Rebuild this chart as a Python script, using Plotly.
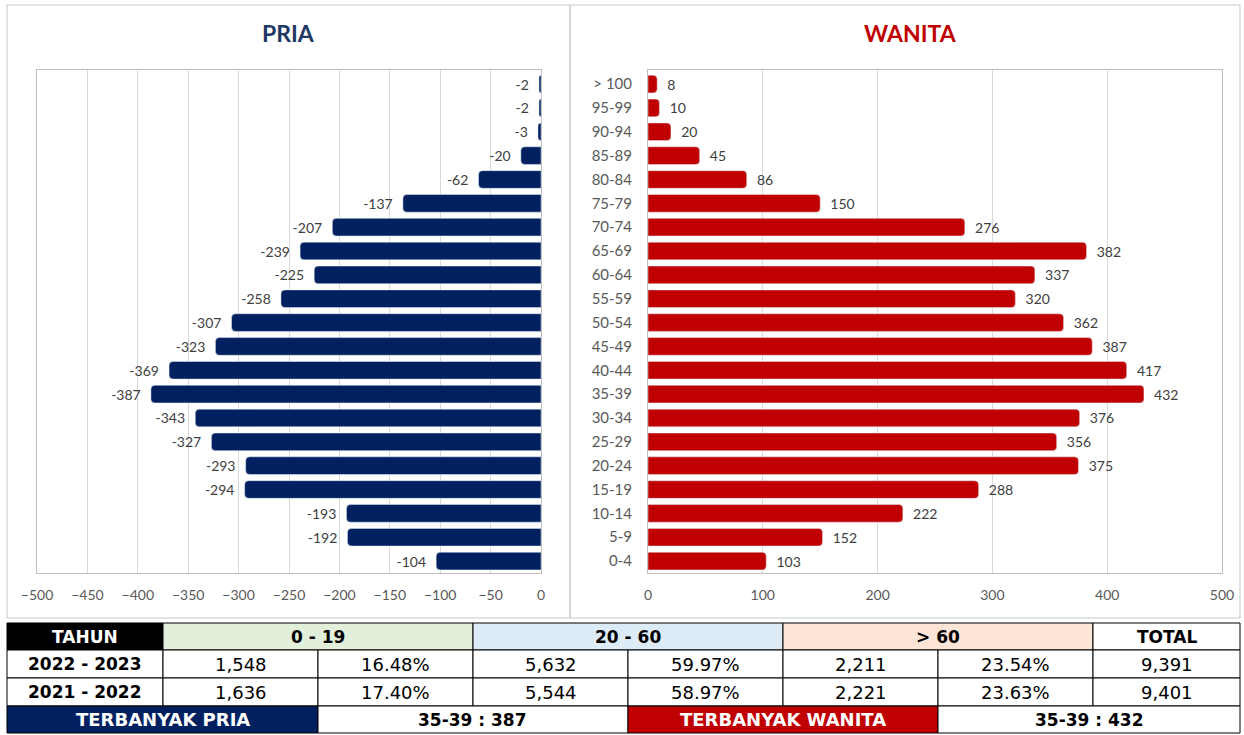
import plotly.graph_objects as go

W, H = 1244, 735

ages = ["> 100", "95-99", "90-94", "85-89", "80-84", "75-79", "70-74", "65-69", "60-64",
        "55-59", "50-54", "45-49", "40-44", "35-39", "30-34", "25-29", "20-24", "15-19",
        "10-14", "5-9", "0-4"]
pria = [-2, -2, -3, -20, -62, -137, -207, -239, -225, -258, -307, -323, -369, -387,
        -343, -327, -293, -294, -193, -192, -104]
wanita = [8, 10, 20, 45, 86, 150, 276, 382, 337, 320, 362, 387, 417, 432, 376, 356,
          375, 288, 222, 152, 103]

left_ticks = [-500, -450, -400, -350, -300, -250, -200, -150, -100, -50, 0]
right_ticks = [0, 100, 200, 300, 400, 500]

group_labels = ["0 - 19", "20 - 60", "> 60"]
years = ["2022 - 2023", "2021 - 2022"]
row_2023 = ["1,548", "16.48%", "5,632", "59.97%", "2,211", "23.54%", "9,391"]
row_2022 = ["1,636", "17.40%", "5,544", "58.97%", "2,221", "23.63%", "9,401"]
top_male = "35-39 : 387"
top_female = "35-39 : 432"

NAVY = "#002060"
RED = "#C00000"
FONT = "Lato"
TFONT = "DejaVu Sans"
NB = "\u00a0\u00a0"


def px(x):
    return x / W


def py(y):
    return 1 - y / H


fig = go.Figure()
fig.add_trace(go.Bar(
    x=pria, y=ages, orientation="h", marker=dict(color=NAVY, cornerradius=4),
    width=0.74, text=[f"{v}{NB}" for v in pria], textposition="outside",
    textfont=dict(color="#404040", size=14, family=FONT), cliponaxis=False,
    xaxis="x", yaxis="y", showlegend=False))
fig.add_trace(go.Bar(
    x=wanita, y=ages, orientation="h", marker=dict(color=RED, cornerradius=4),
    width=0.74, text=[f"{NB}{v}" for v in wanita], textposition="outside",
    textfont=dict(color="#404040", size=14, family=FONT), cliponaxis=False,
    xaxis="x2", yaxis="y2", showlegend=False))

ydom = [py(573), py(70)]
axis_common = dict(showgrid=True, gridcolor="#D9D9D9", gridwidth=1, showline=True,
                   linecolor="#BFBFBF", mirror=True, zeroline=False, automargin=False,
                   tickfont=dict(color="#595959", size=14, family=FONT), ticks="")
fig.update_layout(
    width=W, height=H, margin=dict(l=0, r=0, t=0, b=0, autoexpand=False),
    paper_bgcolor="white", plot_bgcolor="white",
    font=dict(family=FONT),
    bargap=0.25,
    xaxis=dict(domain=[px(37), px(541)], range=[-500, 0], tickvals=left_ticks,
               ticklabelstandoff=9, **axis_common),
    yaxis=dict(domain=ydom, categoryorder="array", categoryarray=ages,
               range=[20.5, -0.59], showticklabels=False, showgrid=False, automargin=False,
               showline=True, linecolor="#BFBFBF", mirror=True, anchor="x"),
    xaxis2=dict(domain=[px(648), px(1222)], range=[0, 500], tickvals=right_ticks,
                anchor="y2", ticklabelstandoff=9, **axis_common),
    yaxis2=dict(domain=ydom, categoryorder="array", categoryarray=ages,
                range=[20.5, -0.59], showgrid=False, showline=True, automargin=False,
                linecolor="#BFBFBF", mirror=True, anchor="x2",
                tickfont=dict(color="#595959", size=15, family=FONT),
                ticklabelstandoff=12),
)

shapes = []
annos = []
# panel borders
shapes.append(dict(type="rect", xref="paper", yref="paper", x0=px(7), x1=px(570),
                   y0=py(618), y1=py(5), line=dict(color="#C8C8C8", width=1)))
shapes.append(dict(type="rect", xref="paper", yref="paper", x0=px(570), x1=px(1240),
                   y0=py(618), y1=py(5), line=dict(color="#C8C8C8", width=1)))
annos.append(dict(text="<b>PRIA</b>", x=px(288), y=py(33), xref="paper", yref="paper",
                  xanchor="center", yanchor="middle",
                  showarrow=False, font=dict(size=23, color="#1F3864", family=FONT)))
annos.append(dict(text="<b>WANITA</b>", x=px(910), y=py(33), xref="paper", yref="paper",
                  xanchor="center", yanchor="middle",
                  showarrow=False, font=dict(size=23, color=RED, family=FONT)))


def cell(x0, x1, y0, y1, text, bg="white", color="black", bold=False, size=17):
    shapes.append(dict(type="rect", xref="paper", yref="paper", x0=px(x0), x1=px(x1),
                       y0=py(y1), y1=py(y0), fillcolor=bg,
                       line=dict(color="black", width=1), layer="above"))
    t = f"<b>{text}</b>" if bold else text
    annos.append(dict(text=t, x=px((x0 + x1) / 2), y=py((y0 + y1) / 2), xref="paper",
                      yref="paper", showarrow=False, xanchor="center", yanchor="middle",
                      font=dict(size=size, color=color, family=TFONT)))


cols = [7, 163, 318, 473, 628, 783, 938, 1093, 1240]
rows = [623, 650, 678, 706, 733]
# header
cell(cols[0], cols[1], rows[0], rows[1], "TAHUN", bg="black", color="white", bold=True)
hdr_bg = ["#E2EFDA", "#DDEBF7", "#FCE4D6"]
for i, g in enumerate(group_labels):
    cell(cols[1 + 2 * i], cols[3 + 2 * i], rows[0], rows[1], g, bg=hdr_bg[i], bold=True)
cell(cols[7], cols[8], rows[0], rows[1], "TOTAL", bold=True)
# data rows
for r, (yr, vals) in enumerate(zip(years, [row_2023, row_2022])):
    cell(cols[0], cols[1], rows[1 + r], rows[2 + r], yr, bold=True, size=17)
    for j, v in enumerate(vals):
        cell(cols[1 + j], cols[2 + j], rows[1 + r], rows[2 + r], v, size=18)
# bottom row
cell(cols[0], cols[2], rows[3], rows[4], "TERBANYAK PRIA", bg=NAVY, color="white", bold=True, size=18)
cell(cols[2], cols[4], rows[3], rows[4], top_male, bold=True)
cell(cols[4], cols[6], rows[3], rows[4], "TERBANYAK WANITA", bg=RED, color="white", bold=True, size=18)
cell(cols[6], cols[8], rows[3], rows[4], top_female, bold=True)

fig.update_layout(shapes=shapes, annotations=annos)
fig.write_html("out.html", config={"displayModeBar": False},
               post_script="document.body.style.margin='0';document.body.style.overflow='hidden';")
